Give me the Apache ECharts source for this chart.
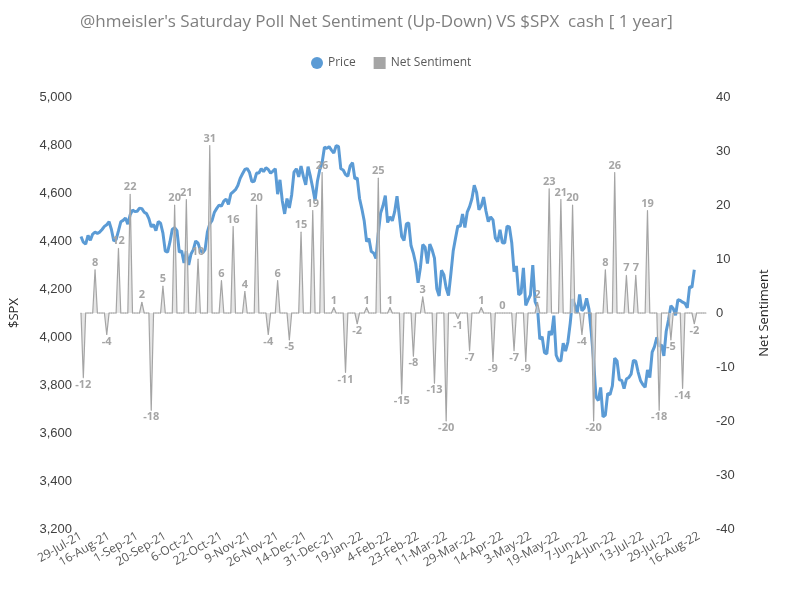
<!DOCTYPE html>
<html>
<head>
    <meta charset="UTF-8">
    <title>Saturday Poll Net Sentiment vs SPX</title>
    <script src="https://cdn.jsdelivr.net/npm/echarts@6/dist/echarts.min.js"></script>
    <style>
        html, body { margin: 0; padding: 0; background: #fff; }
        #main { width: 789px; height: 591px; }
    </style>
</head>
<body>
<div id="main"></div>
<script>
    // trading sessions shown on the axis
    var startDay = '2021-07-29';
    var endDay = '2022-08-19';
    var holidays = ['2021-09-06', '2021-11-25', '2021-12-24', '2022-01-17', '2022-02-21',
        '2022-04-15', '2022-05-30', '2022-06-20', '2022-07-04'];
    var monthNames = ['Jan', 'Feb', 'Mar', 'Apr', 'May', 'Jun', 'Jul', 'Aug', 'Sep', 'Oct', 'Nov', 'Dec'];

    // $SPX close, one per session (29-Jul-21 .. 12-Aug-22)
    var price = [
        4419, 4395,
        4387, 4423, 4403, 4429, 4437, 4432, 4437, 4448, 4461, 4468, 4480, 4448, 4400, 4406, 4442, 4480, 4486, 4496, 4470, 4509, 4529, 4523,
        4524, 4537, 4535, 4520, 4514, 4493, 4459, 4469, 4443, 4481, 4474, 4433, 4358, 4354, 4396, 4449, 4455, 4443, 4353, 4359, 4308,
        4357, 4300, 4346, 4364, 4400, 4391, 4361, 4351, 4364, 4438, 4471, 4486, 4520, 4536, 4550, 4545, 4566, 4575, 4552, 4596, 4605,
        4614, 4631, 4661, 4680, 4698, 4702, 4685, 4647, 4649, 4683, 4683, 4701, 4689, 4705, 4698, 4683, 4691, 4701, 4595, 4655, 4567,
        4513, 4577, 4538, 4592, 4687, 4701, 4667, 4712, 4669, 4634, 4710, 4669, 4621, 4568, 4649, 4697, 4726, 4791, 4786, 4793, 4779, 4766,
        4797, 4794, 4701, 4696, 4677, 4670, 4713, 4726, 4659, 4663, 4577, 4533, 4483, 4398, 4410, 4356, 4350, 4327, 4432, 4516,
        4547, 4589, 4477, 4501, 4484, 4522, 4587, 4504, 4419, 4402, 4471, 4475, 4380, 4349, 4305, 4226, 4289, 4385, 4374,
        4306, 4387, 4363, 4329, 4201, 4171, 4278, 4260, 4204, 4173, 4262, 4358, 4412, 4463, 4461, 4512, 4456, 4520, 4543, 4576, 4632, 4602, 4530,
        4546, 4583, 4525, 4481, 4500, 4488, 4413, 4397, 4447, 4393, 4392, 4462, 4459, 4394, 4272, 4296, 4175, 4184, 4288, 4132,
        4155, 4175, 4300, 4147, 4123, 3991, 4001, 3935, 3930, 4024, 4008, 4089, 3924, 3901, 3901, 3974, 3941, 3979, 4058, 4158, 4132,
        4101, 4177, 4109, 4121, 4161, 4116, 4018, 3901, 3750, 3735, 3790, 3667, 3675, 3765, 3760, 3796, 3912, 3900, 3822, 3819, 3785,
        3825, 3831, 3845, 3903, 3899, 3854, 3819, 3802, 3790, 3863, 3831, 3937, 3960, 3999, 3962, 3967, 3921, 4024, 4072, 4130,
        4119, 4091, 4155, 4152, 4145, 4140, 4122, 4210, 4207, 4280
    ];

    // Saturday poll net sentiment, one per week, shown on the week's last session
    var sentiment = [
        -12, 8, -4, 12, 22, 2, -18, 5, 20, 21, 10, 31, 6, 16, 4, 20, -4, 6, -5, 15, 19, 26, 1,
        -11, -2, 1, 25, 1, -15, -8, 3, -13, -20, -1, -7, 1, -9, 0, -7, -9, 2, 23, 21, 20, -4,
        -20, 8, 26, 7, 7, 19, -18, -5, -14, -2
    ];

    function parseDay(s) {
        var p = s.split('-');
        return new Date(Date.UTC(+p[0], +p[1] - 1, +p[2]));
    }
    function isoDay(d) {
        return d.toISOString().slice(0, 10);
    }

    var days = [];
    var cur = parseDay(startDay), last = parseDay(endDay);
    while (cur <= last) {
        var wd = cur.getUTCDay();
        if (wd !== 0 && wd !== 6 && holidays.indexOf(isoDay(cur)) < 0) {
            days.push(new Date(cur.getTime()));
        }
        cur.setUTCDate(cur.getUTCDate() + 1);
    }

    var categories = days.map(function (d) {
        return d.getUTCDate() + '-' + monthNames[d.getUTCMonth()] + '-' + String(d.getUTCFullYear()).slice(2);
    });

    var sentData = [];
    var week = 0;
    for (var i = 0; i < days.length; i++) {
        var weekEnd = i === days.length - 1 || days[i + 1].getUTCDay() < days[i].getUTCDay();
        if (weekEnd && week < sentiment.length) {
            var v = sentiment[week++];
            sentData.push({value: v, label: {show: true, position: v < 0 ? 'bottom' : 'top'}});
        } else {
            sentData.push(0);
        }
    }

    var axisText = {color: '#404040', fontSize: 13, fontFamily: 'Liberation Sans'};

    var option = {
        backgroundColor: '#fff',
        animation: false,
        title: {
            text: "@hmeisler's Saturday Poll Net Sentiment (Up-Down) VS $SPX  cash [ 1 year]",
            left: 75,
            top: 9,
            textStyle: {color: '#7f7f7f', fontSize: 17, fontWeight: 'normal', fontFamily: 'Open Sans'}
        },
        legend: {
            top: 52,
            left: 306,
            itemGap: 18,
            itemWidth: 12,
            itemHeight: 12,
            textStyle: {color: '#595959', fontSize: 12, fontFamily: 'Open Sans'},
            data: [
                {name: 'Price', icon: 'circle'},
                {name: 'Net Sentiment', icon: 'rect'}
            ]
        },
        grid: {left: 79, right: 83, top: 97, bottom: 62},
        xAxis: {
            type: 'category',
            data: categories,
            boundaryGap: false,
            axisLine: {show: false},
            axisTick: {show: false},
            axisLabel: {interval: 11, rotate: 30, color: '#595959', fontSize: 12, fontFamily: 'Open Sans', margin: 6}
        },
        yAxis: [{
            type: 'value',
            name: '$SPX',
            nameLocation: 'middle',
            nameRotate: 90,
            nameGap: 60,
            nameTextStyle: {color: '#262626', fontSize: 13, fontFamily: 'Open Sans'},
            min: 3200,
            max: 5000,
            interval: 200,
            splitLine: {show: false},
            axisLine: {show: false},
            axisTick: {show: false},
            axisLabel: Object.assign({
                margin: 9,
                formatter: function (val) { return val.toLocaleString('en-US'); }
            }, axisText)
        }, {
            type: 'value',
            name: 'Net Sentiment',
            nameLocation: 'middle',
            nameRotate: 90,
            nameGap: 52,
            nameTextStyle: {color: '#262626', fontSize: 13, fontFamily: 'Open Sans'},
            min: -40,
            max: 40,
            interval: 10,
            splitLine: {show: false},
            axisLine: {show: false},
            axisTick: {show: false},
            axisLabel: Object.assign({margin: 10}, axisText)
        }],
        series: [{
            name: 'Price',
            type: 'line',
            data: price,
            yAxisIndex: 0,
            symbol: 'none',
            z: 3,
            itemStyle: {color: '#5b9bd5'},
            lineStyle: {color: '#5b9bd5', width: 3}
        }, {
            name: 'Net Sentiment',
            type: 'line',
            data: sentData,
            yAxisIndex: 1,
            symbol: 'circle',
            symbolSize: 1,
            showAllSymbol: true,
            z: 4,
            itemStyle: {color: '#a5a5a5'},
            lineStyle: {color: '#a5a5a5', width: 1.2},
            areaStyle: {color: '#dcdcdc', origin: 0},
            label: {
                color: '#a5a5a5',
                fontSize: 11,
                fontWeight: 'bold',
                fontFamily: 'Open Sans',
                distance: 1
            }
        }]
    };

    var myChart = echarts.init(document.getElementById('main'));
    myChart.setOption(option);
</script>
</body>
</html>
